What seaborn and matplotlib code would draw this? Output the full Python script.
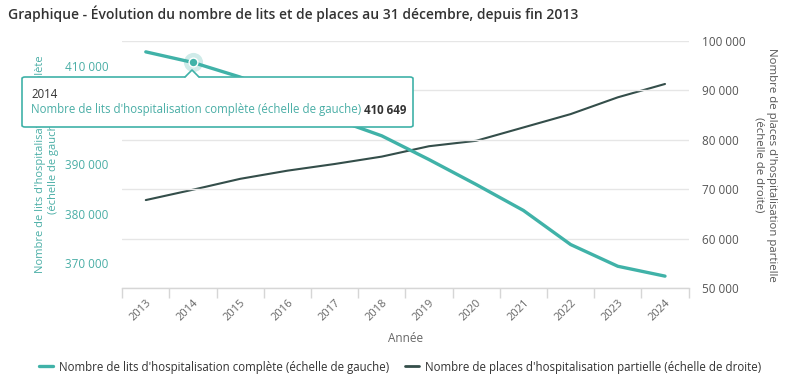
import numpy as np
import pandas as pd
import matplotlib as mpl
mpl.use("Agg")
import matplotlib.pyplot as plt
from matplotlib.ticker import FixedLocator, FuncFormatter, NullFormatter
from matplotlib.patches import FancyBboxPatch, Polygon
from matplotlib.lines import Line2D
import seaborn as sns

# --- data ---
annees = ["2013", "2014", "2015", "2016", "2017", "2018",
          "2019", "2020", "2021", "2022", "2023", "2024"]
lits_complete = [412800, 410649, 407700, 403800, 399200, 395800,
                 391000, 385950, 380700, 373800, 369400, 367400]
places_partielle = [67800, 69900, 72100, 73750, 75100, 76600,
                    78700, 79800, 82500, 85200, 88600, 91300]

lab_gauche = "Nombre de lits d'hospitalisation complète (échelle de gauche)"
lab_droite = "Nombre de places d'hospitalisation partielle (échelle de droite)"

TEAL = "#40b2a8"
TEAL_TXT = "#4aaea6"
DARK = "#344e4a"
GREY = "#666666"

sns.set_theme(style="white")
plt.rcParams["font.family"] = ["Open Sans", "DejaVu Sans"]

df = pd.DataFrame({"annee": annees, "lits": lits_complete, "places": places_partielle})
df["pos"] = np.arange(len(df))

W, H = 800, 379
fig = plt.figure(figsize=(W / 100, H / 100), dpi=100)
ax = fig.add_axes([122.2 / W, 1 - 288 / H, 566.4 / W, 247 / H])
ax2 = ax.twinx()

sns.lineplot(data=df, x="pos", y="places", ax=ax2, color=DARK, linewidth=1.5, legend=False)
sns.lineplot(data=df, x="pos", y="lits", ax=ax, color=TEAL, linewidth=2.4, legend=False)
ax.set_zorder(ax2.get_zorder() + 1)
ax.patch.set_visible(False)

ax.set_xlim(-0.5, len(annees) - 0.5)
ax.set_ylim(365000, 415000)
ax2.set_ylim(50000, 100000)

fmt = FuncFormatter(lambda v, p: f"{v:,.0f}".replace(",", " "))

# axe gauche : grille tous les 5 000, étiquettes tous les 10 000
ax.yaxis.set_major_locator(FixedLocator(np.arange(370000, 410001, 10000)))
ax.yaxis.set_minor_locator(FixedLocator(np.arange(365000, 415001, 5000)))
ax.yaxis.set_major_formatter(fmt)
ax.grid(False)
ax.grid(True, axis="y", which="minor", color="#e6e6e6", linewidth=1)
ax.tick_params(axis="y", which="both", length=0, pad=10, labelsize=8.5, labelcolor=TEAL_TXT)

ax2.yaxis.set_major_locator(FixedLocator(np.arange(50000, 100001, 10000)))
ax2.yaxis.set_major_formatter(fmt)
ax2.grid(False)
ax2.tick_params(axis="y", length=0, pad=10, labelsize=8.5, labelcolor="#555555")

# axe x : traits aux limites des catégories, étiquettes au centre
ax.xaxis.set_major_locator(FixedLocator(np.arange(-0.5, len(annees), 1.0)))
ax.xaxis.set_major_formatter(NullFormatter())
ax.xaxis.set_minor_locator(FixedLocator(df["pos"]))
ax.set_xticklabels(annees, minor=True)
ax.tick_params(axis="x", which="major", length=7, width=1, color="#d6d6d6", direction="out", bottom=True)
ax.tick_params(axis="x", which="minor", length=0, pad=7, labelsize=8, labelcolor=GREY)
for t in ax.get_xticklabels(minor=True):
    t.set_rotation(45)
    t.set_ha("right")
    t.set_va("top")
    t.set_rotation_mode("anchor")

for a in (ax, ax2):
    for s in a.spines.values():
        s.set_visible(False)
ax.spines["bottom"].set_visible(True)
ax.spines["bottom"].set_color("#d6d6d6")
ax.spines["bottom"].set_linewidth(1)

ax.set_xlabel("Année", fontsize=8.5, color=GREY, labelpad=6)
ax.set_ylabel("Nombre de lits d'hospitalisation complète\n(échelle de gauche)",
              fontsize=8, color=TEAL_TXT, labelpad=4, linespacing=1.25)
ax2.set_ylabel("Nombre de places d'hospitalisation partielle\n(échelle de droite)",
               fontsize=8.2, color="#555555", rotation=270, labelpad=22, linespacing=1.2)

# titre
fig.text(8 / W, 1 - 14 / H, "Graphique - Évolution du nombre de lits et de places au 31 décembre, depuis fin 2013",
         fontsize=10, fontweight="semibold", color="#333333", ha="left", va="center")

# point survolé
ax.scatter([1], [lits_complete[1]], s=190, color=TEAL, alpha=0.25, linewidths=0, zorder=5)
ax.scatter([1], [lits_complete[1]], s=40, color=TEAL, edgecolor="white", linewidths=1, zorder=6)

# info-bulle
def px(x, y):
    return (x / W, 1 - y / H)

x0, y0, x1, y1 = 22, 77, 413, 127
box = FancyBboxPatch(px(x0, y1), (x1 - x0) / W, (y1 - y0) / H,
                     boxstyle="round,pad=0,rounding_size=0.004",
                     transform=fig.transFigure, facecolor="white",
                     edgecolor=TEAL, linewidth=1.2, zorder=10)
fig.add_artist(box)
tri = Polygon([px(185, y0 + 1), px(192, y0 - 7), px(199, y0 + 1)], closed=True,
              transform=fig.transFigure, facecolor="white", edgecolor="none", zorder=11)
fig.add_artist(tri)
fig.add_artist(Line2D([185 / W, 192 / W, 199 / W], [1 - y0 / H, 1 - (y0 - 7) / H, 1 - y0 / H],
                      transform=fig.transFigure, color=TEAL, linewidth=1.2, zorder=12))

fig.text(31 / W, 1 - 94 / H, "2014", fontsize=8.3, color="#333333", va="center", zorder=13)
t1 = fig.text(31 / W, 1 - 110 / H, lab_gauche, fontsize=8.3, color=TEAL_TXT, va="center", zorder=13)
fig.canvas.draw()
bb = t1.get_window_extent()
fig.text((bb.x1 + 3) / W, 1 - 110 / H, "410 649", fontsize=8.3, fontweight="bold",
         color="#333333", va="center", zorder=13)

# légende
handles = [Line2D([], [], color=TEAL, linewidth=2.4), Line2D([], [], color=DARK, linewidth=2)]
fig.legend(handles, [lab_gauche, lab_droite], loc="center", bbox_to_anchor=(0.5, 1 - 367 / H),
           ncol=2, frameon=False, fontsize=8.3, handlelength=1.2, handletextpad=0.5,
           columnspacing=1.4, labelcolor="#333333")

fig.savefig("out.png", dpi=100)
